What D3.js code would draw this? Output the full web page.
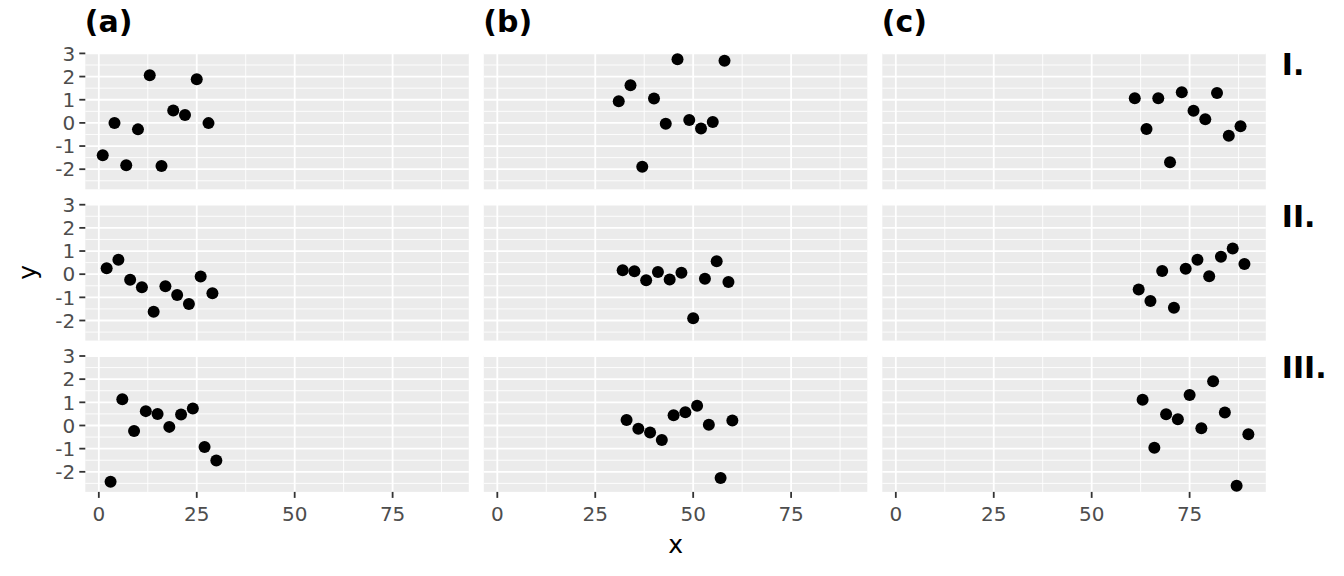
<!DOCTYPE html>
<html>
<head>
<meta charset="utf-8">
<script src="https://cdn.jsdelivr.net/npm/d3@7"></script>
<style>
  html, body { margin: 0; padding: 0; background: #ffffff; }
  svg { display: block; }
</style>
</head>
<body>
<svg id="chart" width="1344" height="576"></svg>
<script>
// ---- data ----
const colLabels = ["(a)", "(b)", "(c)"];
const rowLabels = ["I.", "II.", "III."];
const xTicks = [0, 25, 50, 75];
const yTicks = [-2, -1, 0, 1, 2, 3];

// row I
const xaI = [1, 4, 7, 10, 13, 16, 19, 22, 25, 28];
const yaI = [-1.40, 0.00, -1.83, -0.28, 2.06, -1.86, 0.53, 0.34, 1.88, -0.01];
const xbI = [31, 34, 37, 40, 43, 46, 49, 52, 55, 58];
const ybI = [0.93, 1.62, -1.89, 1.05, -0.04, 2.75, 0.12, -0.24, 0.04, 2.68];
const xcI = [61, 64, 67, 70, 73, 76, 79, 82, 85, 88];
const ycI = [1.06, -0.26, 1.06, -1.70, 1.32, 0.52, 0.16, 1.29, -0.56, -0.15];
// row II
const xaII = [2, 5, 8, 11, 14, 17, 20, 23, 26, 29];
const yaII = [0.26, 0.62, -0.24, -0.56, -1.62, -0.52, -0.90, -1.29, -0.10, -0.82];
const xbII = [32, 35, 38, 41, 44, 47, 50, 53, 56, 59];
const ybII = [0.17, 0.13, -0.26, 0.09, -0.23, 0.06, -1.90, -0.20, 0.56, -0.34];
const xcII = [62, 65, 68, 71, 74, 77, 80, 83, 86, 89];
const ycII = [-0.66, -1.16, 0.14, -1.45, 0.23, 0.62, -0.09, 0.75, 1.11, 0.44];
// row III
const xaIII = [3, 6, 9, 12, 15, 18, 21, 24, 27, 30];
const yaIII = [-2.43, 1.13, -0.24, 0.62, 0.50, -0.06, 0.47, 0.73, -0.93, -1.51];
const xbIII = [33, 36, 39, 42, 45, 48, 51, 54, 57, 60];
const ybIII = [0.24, -0.14, -0.30, -0.63, 0.44, 0.57, 0.85, 0.03, -2.27, 0.22];
const xcIII = [63, 66, 69, 72, 75, 78, 81, 84, 87, 90];
const ycIII = [1.11, -0.96, 0.49, 0.27, 1.32, -0.12, 1.91, 0.56, -2.60, -0.38];

const panelX = [[xaI, xbI, xcI], [xaII, xbII, xcII], [xaIII, xbIII, xcIII]];
const panelY = [[yaI, ybI, ycI], [yaII, ybII, ycII], [yaIII, ybIII, ycIII]];

// ---- layout ----
const mLeft = 85.3, mTop = 53, W = 383.5, H = 136.3, gap = 15;
const svg = d3.select("#chart");

const allX = panelX.flat(2), allY = panelY.flat(2);
function expand(ext) { const d = (ext[1] - ext[0]) * 0.05; return [ext[0] - d, ext[1] + d]; }
const x = d3.scaleLinear().domain(expand(d3.extent(allX))).range([0, W]);
const y = d3.scaleLinear().domain(expand(d3.extent(allY))).range([H, 0]);

const xMinor = [12.5, 37.5, 62.5, 87.5].filter(v => v >= x.domain()[0] && v <= x.domain()[1]);
const yMinor = [-2.5, -1.5, -0.5, 0.5, 1.5, 2.5].filter(v => v >= y.domain()[0] && v <= y.domain()[1]);

const font = "DejaVu Sans, sans-serif";

for (let r = 0; r < 3; r++) {
  for (let c = 0; c < 3; c++) {
    const px = mLeft + c * (W + gap), py = mTop + r * (H + gap);
    const g = svg.append("g").attr("transform", `translate(${px},${py})`);
    g.append("rect").attr("width", W).attr("height", H).attr("fill", "#EBEBEB");
    // minor grid
    g.selectAll(".vminor").data(xMinor).join("line").attr("class", "vminor")
      .attr("x1", d => x(d)).attr("x2", d => x(d)).attr("y1", 0).attr("y2", H)
      .attr("stroke", "#ffffff").attr("stroke-width", 0.9);
    g.selectAll(".hminor").data(yMinor).join("line").attr("class", "hminor")
      .attr("y1", d => y(d)).attr("y2", d => y(d)).attr("x1", 0).attr("x2", W)
      .attr("stroke", "#ffffff").attr("stroke-width", 0.9);
    // major grid
    g.selectAll(".vmajor").data(xTicks).join("line").attr("class", "vmajor")
      .attr("x1", d => x(d)).attr("x2", d => x(d)).attr("y1", 0).attr("y2", H)
      .attr("stroke", "#ffffff").attr("stroke-width", 1.8);
    g.selectAll(".hmajor").data(yTicks.filter(v => y(v) >= -0.5)).join("line").attr("class", "hmajor")
      .attr("y1", d => y(d)).attr("y2", d => y(d)).attr("x1", 0).attr("x2", W)
      .attr("stroke", "#ffffff").attr("stroke-width", 1.8);
    // points
    const pts = panelX[r][c].map((v, i) => ({ x: v, y: panelY[r][c][i] }));
    g.selectAll("circle").data(pts).join("circle")
      .attr("cx", d => x(d.x)).attr("cy", d => y(d.y)).attr("r", 6).attr("fill", "#000000");

    // y axis on left column
    if (c === 0) {
      const ya = g.append("g");
      ya.selectAll("line").data(yTicks).join("line")
        .attr("x1", -6).attr("x2", 0).attr("y1", d => y(d)).attr("y2", d => y(d))
        .attr("stroke", "#333333").attr("stroke-width", 1.8);
      ya.selectAll("text").data(yTicks).join("text")
        .attr("x", -10).attr("y", d => y(d)).attr("dy", "0.36em")
        .attr("text-anchor", "end").attr("font-family", font).attr("font-size", 20)
        .attr("fill", "#4D4D4D").text(d => d);
    }
    // x axis on bottom row
    if (r === 2) {
      const xa = g.append("g").attr("transform", `translate(0,${H})`);
      xa.selectAll("line").data(xTicks).join("line")
        .attr("x1", d => x(d)).attr("x2", d => x(d)).attr("y1", 0).attr("y2", 6)
        .attr("stroke", "#333333").attr("stroke-width", 1.8);
      xa.selectAll("text").data(xTicks).join("text")
        .attr("x", d => x(d)).attr("y", 29.5)
        .attr("text-anchor", "middle").attr("font-family", font).attr("font-size", 20)
        .attr("fill", "#4D4D4D").text(d => d);
    }
    // column strip
    if (r === 0) {
      svg.append("text").attr("x", px - 0.5).attr("y", 31.5)
        .attr("font-family", font).attr("font-size", 30).attr("font-weight", "bold")
        .attr("fill", "#000000").text(colLabels[c]);
    }
    // row strip
    if (c === 2) {
      svg.append("text").attr("x", px + W + 16).attr("y", py + 22.3)
        .attr("font-family", font).attr("font-size", 30).attr("font-weight", "bold")
        .attr("fill", "#000000").text(rowLabels[r]);
    }
  }
}

// axis titles
const totalW = 3 * W + 2 * gap, totalH = 3 * H + 2 * gap;
svg.append("text").attr("x", mLeft + totalW / 2).attr("y", 553)
  .attr("text-anchor", "middle").attr("font-family", font).attr("font-size", 25)
  .attr("fill", "#000000").text("x");
svg.append("text").attr("transform", `translate(36,${mTop + totalH / 2}) rotate(-90)`)
  .attr("text-anchor", "middle").attr("font-family", font).attr("font-size", 25)
  .attr("fill", "#000000").text("y");
</script>
</body>
</html>
